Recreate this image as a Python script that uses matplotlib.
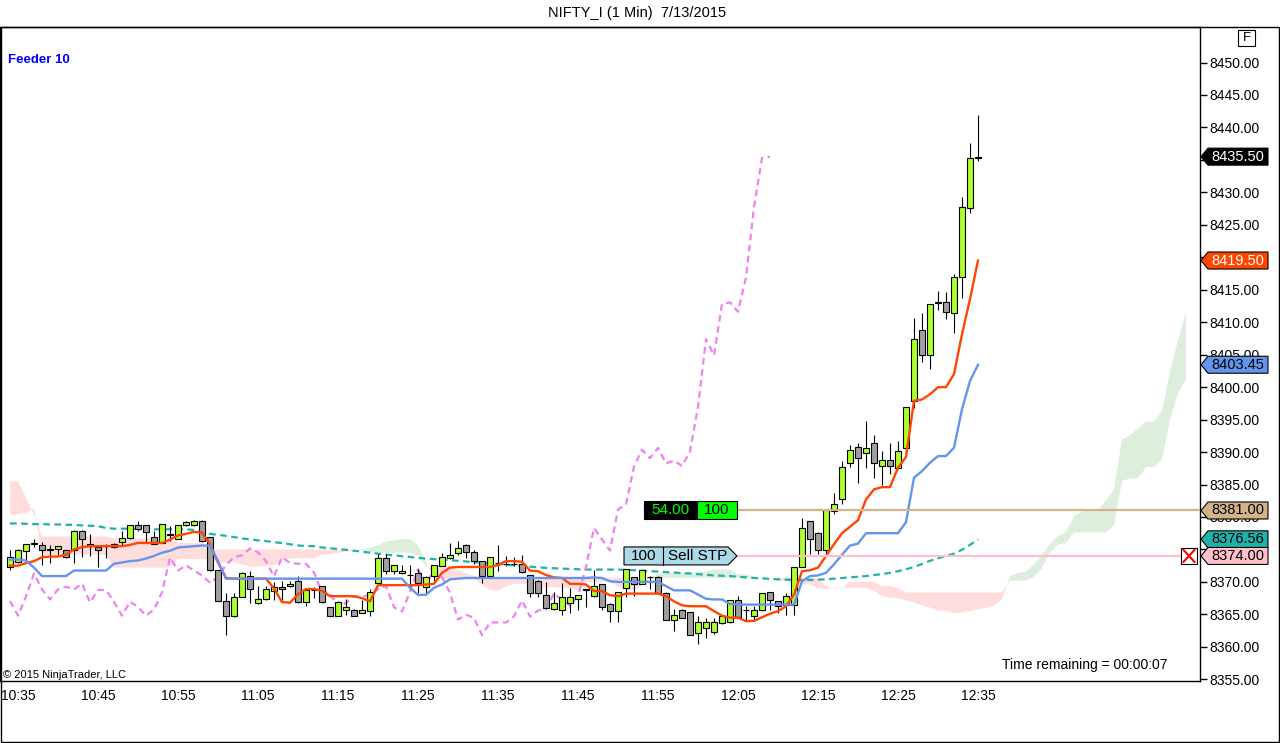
import matplotlib
matplotlib.use("Agg")
import matplotlib.pyplot as plt
from matplotlib.patches import Rectangle, Polygon
from matplotlib.lines import Line2D
from matplotlib.transforms import blended_transform_factory
import numpy as np

plt.rcParams['font.family'] = ['Liberation Sans', 'DejaVu Sans']

# ---------------- data (1-minute bars, first bar = 10:34) ----------------
time_labels = ["10:35", "10:45", "10:55", "11:05", "11:15", "11:25", "11:35",
               "11:45", "11:55", "12:05", "12:15", "12:25", "12:35"]
time_label_bars = [1, 11, 21, 31, 41, 51, 61, 71, 81, 91, 101, 111, 121]

opens = [8372.3, 8373.05, 8374.75, 8375.85, 8375.75, 8375.0, 8375.0, 8374.85, 8374.85, 8377.9,
         8375.8, 8375.45, 8375.5, 8375.9, 8376.2, 8376.7, 8378.7, 8378.7, 8376.85, 8376.0,
         8377.3, 8376.6, 8378.7, 8378.7, 8379.45, 8376.85, 8371.9, 8367.0, 8364.8, 8367.75,
         8370.85, 8366.7, 8367.3, 8368.55, 8369.2, 8369.3, 8370.1, 8366.85, 8368.7, 8369.3,
         8366.15, 8364.8, 8365.75, 8365.75, 8365.25, 8365.5, 8369.85, 8373.75, 8371.75, 8371.3,
         8371.0, 8371.4, 8369.2, 8370.95, 8372.5, 8373.65, 8374.4, 8375.75, 8374.6, 8373.15,
         8370.85, 8372.9, 8372.8, 8372.8, 8372.8, 8371.0, 8370.2, 8367.95, 8365.9, 8365.7,
         8366.75, 8367.3, 8368.7, 8367.8, 8369.7, 8366.65, 8365.45, 8369.1, 8370.75, 8369.7,
         8370.8, 8370.8, 8368.35, 8364.2, 8365.75, 8365.35, 8362.15, 8362.9, 8362.25, 8363.7,
         8363.75, 8367.15, 8365.6, 8364.8, 8365.75, 8368.45, 8367.05, 8366.5, 8366.4, 8372.3,
         8379.35, 8377.6, 8374.85, 8380.9, 8382.7, 8388.25, 8390.85, 8389.8, 8391.35, 8387.85,
         8388.7, 8387.6, 8390.55, 8397.85, 8408.75, 8404.9, 8413.0, 8413.05, 8411.4, 8417.0,
         8427.6, 8435.3]
highs = [8374.9, 8375.0, 8375.9, 8376.65, 8376.2, 8375.65, 8375.6, 8374.85, 8377.95, 8377.95,
         8377.4, 8375.75, 8375.9, 8376.0, 8377.85, 8378.75, 8379.45, 8378.75, 8377.85, 8378.9,
         8378.6, 8378.75, 8379.35, 8379.5, 8379.5, 8376.9, 8371.9, 8368.3, 8368.3, 8371.5,
         8371.75, 8369.35, 8369.35, 8369.95, 8370.1, 8370.1, 8370.9, 8368.8, 8369.2, 8369.35,
         8366.2, 8367.0, 8367.3, 8365.8, 8367.2, 8368.85, 8374.3, 8374.3, 8372.6, 8372.55,
         8372.55, 8372.05, 8370.85, 8372.65, 8374.5, 8375.95, 8376.3, 8375.8, 8374.95, 8373.2,
         8373.9, 8375.65, 8373.95, 8373.8, 8374.1, 8371.05, 8370.25, 8369.95, 8368.45, 8369.8,
         8369.1, 8368.0, 8368.95, 8371.8, 8369.75, 8366.7, 8368.5, 8372.0, 8370.8, 8371.85,
         8370.85, 8370.85, 8368.4, 8365.9, 8365.8, 8365.4, 8364.7, 8364.45, 8364.45, 8364.75,
         8367.2, 8367.8, 8366.25, 8366.25, 8368.3, 8368.5, 8367.1, 8368.35, 8372.35, 8379.9,
         8379.4, 8377.65, 8381.2, 8383.75, 8388.6, 8391.05, 8391.45, 8394.8, 8392.65, 8390.15,
         8391.45, 8391.7, 8397.0, 8410.6, 8411.45, 8412.85, 8414.85, 8414.7, 8417.4, 8429.35,
         8437.6, 8441.85]
lows = [8371.9, 8372.9, 8373.3, 8375.35, 8372.55, 8372.85, 8374.2, 8373.75, 8372.85, 8373.8,
        8374.05, 8372.35, 8373.7, 8375.2, 8375.5, 8376.6, 8377.85, 8376.2, 8375.8, 8375.95,
        8376.3, 8376.55, 8378.65, 8378.65, 8376.15, 8371.75, 8367.0, 8361.75, 8364.65, 8367.7,
        8366.8, 8366.65, 8367.25, 8367.15, 8367.15, 8369.2, 8366.8, 8366.25, 8367.55, 8366.8,
        8364.75, 8364.75, 8364.85, 8364.75, 8365.2, 8364.8, 8369.8, 8371.15, 8371.15, 8371.25,
        8369.25, 8368.3, 8368.3, 8370.1, 8372.45, 8373.6, 8374.2, 8373.7, 8372.7, 8369.9,
        8370.8, 8371.75, 8372.45, 8372.4, 8371.4, 8367.7, 8367.7, 8365.95, 8365.75, 8364.95,
        8365.25, 8365.7, 8366.2, 8367.75, 8365.65, 8363.75, 8363.75, 8367.7, 8367.8, 8369.65,
        8368.85, 8368.25, 8364.15, 8362.4, 8364.4, 8361.75, 8360.45, 8361.4, 8361.9, 8363.5,
        8363.7, 8364.6, 8363.95, 8364.05, 8365.5, 8365.75, 8365.25, 8364.95, 8364.95, 8372.25,
        8374.25, 8374.25, 8374.25, 8380.4, 8381.95, 8387.75, 8385.25, 8387.6, 8386.05, 8384.9,
        8386.65, 8387.35, 8389.65, 8396.85, 8403.8, 8402.75, 8411.9, 8410.55, 8408.3, 8413.7,
        8426.75, 8434.8]
closes = [8373.9, 8374.85, 8375.8, 8375.95, 8374.85, 8374.95, 8375.55, 8373.8, 8377.9, 8376.55,
          8375.5, 8374.85, 8375.55, 8375.3, 8376.7, 8378.7, 8378.1, 8377.75, 8375.8, 8378.85,
          8377.35, 8378.7, 8379.3, 8379.45, 8376.3, 8371.85, 8367.05, 8364.8, 8367.75, 8371.3,
          8368.85, 8367.3, 8368.85, 8369.25, 8368.85, 8369.75, 8366.85, 8368.75, 8368.75, 8366.95,
          8364.8, 8366.95, 8366.15, 8364.8, 8365.75, 8368.4, 8373.75, 8371.75, 8372.55, 8371.75,
          8371.0, 8369.85, 8370.8, 8372.6, 8373.8, 8374.1, 8375.15, 8374.55, 8373.2, 8370.85,
          8373.8, 8372.9, 8372.8, 8372.8, 8371.45, 8368.35, 8368.35, 8366.0, 8366.8, 8367.75,
          8367.75, 8367.95, 8368.9, 8369.35, 8366.1, 8365.45, 8368.45, 8371.95, 8369.7, 8371.8,
          8370.75, 8368.3, 8364.2, 8364.95, 8364.45, 8361.8, 8363.75, 8363.75, 8363.75, 8364.7,
          8367.15, 8364.65, 8365.6, 8365.75, 8368.25, 8367.2, 8366.35, 8367.8, 8372.3, 8378.3,
          8376.55, 8374.85, 8381.15, 8381.95, 8387.75, 8390.35, 8389.05, 8390.65, 8388.25, 8388.7,
          8387.85, 8390.1, 8396.95, 8407.4, 8404.9, 8412.8, 8413.05, 8411.6, 8416.9, 8427.7,
          8435.3, 8435.5]

tenkan = [8372.5, 8372.5, 8372.9, 8373.2, 8373.8, 8373.9, 8373.9, 8374.2, 8375.0, 8375.35,
          8375.5, 8375.5, 8375.5, 8375.5, 8375.5, 8375.7, 8376.0, 8376.0, 8376.0, 8376.0,
          8376.5, 8377.15, 8377.4, 8377.7, 8377.6, 8375.8, 8373.0, 8370.6, 8370.5, 8370.5,
          8370.5, 8370.5, 8370.5, 8369.0, 8366.9, 8366.8, 8368.1, 8368.9, 8368.9, 8368.6,
          8367.8, 8367.8, 8367.8, 8367.8, 8367.5, 8367.0, 8369.5, 8369.5, 8369.5, 8369.5,
          8369.5, 8369.5, 8369.6, 8369.7, 8371.4, 8372.2, 8372.3, 8372.3, 8372.3, 8372.3,
          8372.3, 8372.6, 8373.2, 8373.2, 8373.1, 8371.75, 8371.65, 8371.05, 8370.7, 8370.6,
          8369.7, 8369.7, 8369.6, 8368.6, 8368.6, 8367.95, 8367.8, 8368.2, 8368.2, 8368.2,
          8368.2, 8368.2, 8367.8, 8367.0, 8366.4, 8366.25, 8366.25, 8366.25, 8365.5, 8364.8,
          8364.5, 8364.5, 8363.95, 8364.0, 8364.55, 8365.1, 8365.5, 8366.25, 8368.05, 8371.65,
          8371.8, 8372.2, 8374.0, 8375.8, 8377.5, 8378.5, 8379.5, 8382.7, 8384.25, 8384.6,
          8384.6, 8387.6, 8389.25, 8397.9, 8398.1, 8398.9, 8400.0, 8400.0, 8402.0, 8408.15,
          8413.55, 8419.5]
kijun = [8373.45, 8373.45, 8373.3, 8372.2, 8370.9, 8370.9, 8370.9, 8370.9, 8371.75, 8371.75,
         8371.75, 8371.75, 8371.75, 8372.8, 8373.0, 8373.2, 8373.3, 8373.6, 8374.0, 8374.5,
         8374.8, 8375.3, 8375.4, 8375.5, 8375.6, 8375.6, 8373.2, 8370.5, 8370.5, 8370.5,
         8370.5, 8370.5, 8370.5, 8370.5, 8370.5, 8370.5, 8370.5, 8370.5, 8370.5, 8370.5,
         8370.5, 8370.5, 8370.5, 8370.5, 8370.5, 8370.5, 8370.5, 8370.5, 8370.5, 8370.5,
         8369.1, 8368.0, 8368.0, 8369.1, 8369.6, 8370.4, 8370.5, 8370.6, 8370.6, 8370.6,
         8370.6, 8370.6, 8370.6, 8370.6, 8370.6, 8370.6, 8370.6, 8370.6, 8370.6, 8370.6,
         8370.6, 8370.6, 8370.6, 8370.7, 8370.6, 8370.1, 8370.0, 8370.0, 8370.0, 8370.0,
         8370.0, 8370.0, 8369.35, 8368.7, 8368.7, 8368.7, 8368.05, 8367.4, 8367.3, 8367.3,
         8366.6, 8366.5, 8366.5, 8366.5, 8366.5, 8366.5, 8366.5, 8366.5, 8366.5, 8370.1,
         8370.9, 8371.0, 8371.4, 8372.7, 8374.2, 8375.6, 8375.9, 8377.5, 8377.5, 8377.5,
         8377.5, 8377.5, 8379.2, 8386.05, 8387.07, 8388.36, 8389.38, 8389.38, 8390.67, 8396.6,
         8400.95, 8403.45]
trend_ma = [8379.0, 8379.0, 8378.95, 8378.9, 8378.9, 8378.85, 8378.85, 8378.8, 8378.8, 8378.7,
            8378.65, 8378.6, 8378.3, 8378.2, 8378.2, 8378.2, 8378.15, 8378.1, 8378.1, 8378.1,
            8378.1, 8378.1, 8378.1, 8378.0, 8377.6, 8377.4, 8377.25, 8377.1, 8376.9, 8376.7,
            8376.55, 8376.4, 8376.3, 8376.1, 8376.0, 8375.8, 8375.6, 8375.55, 8375.5, 8375.3,
            8375.2, 8375.05, 8374.95, 8374.8, 8374.65, 8374.5, 8374.35, 8374.2, 8374.1, 8373.95,
            8373.85, 8373.7, 8373.6, 8373.5, 8373.45, 8373.35, 8373.25, 8373.15, 8373.05, 8372.95,
            8372.85, 8372.75, 8372.65, 8372.55, 8372.45, 8372.35, 8372.25, 8372.15, 8372.1, 8372.05,
            8372.0, 8371.95, 8371.9, 8371.9, 8371.9, 8371.9, 8371.9, 8371.85, 8371.8, 8371.75,
            8371.65, 8371.6, 8371.5, 8371.45, 8371.35, 8371.3, 8371.2, 8371.1, 8371.0, 8370.95,
            8370.9, 8370.8, 8370.7, 8370.6, 8370.55, 8370.45, 8370.4, 8370.35, 8370.3, 8370.3,
            8370.3, 8370.35, 8370.4, 8370.5, 8370.6, 8370.7, 8370.8, 8370.9, 8371.05, 8371.2,
            8371.4, 8371.65, 8371.95, 8372.3, 8372.75, 8373.25, 8373.65, 8374.0, 8374.35, 8374.95,
            8375.7, 8376.56]
# cloud spans, 26 bars further right than the price bars
span_a = [8380.4, 8380.4, 8380.6, 8381.4, 8374.2, 8374.2, 8374.2, 8374.2, 8374.2, 8374.2,
          8374.2, 8374.2, 8374.2, 8372.2, 8372.2, 8372.2, 8372.2, 8372.2, 8372.2, 8372.2,
          8372.2, 8373.5, 8373.5, 8373.5, 8373.5, 8373.5, 8372.98, 8372.98, 8373.1, 8372.7,
          8372.35, 8372.4, 8372.4, 8372.55, 8373.38, 8373.55, 8373.63, 8373.63, 8373.63, 8374.15,
          8374.25, 8374.45, 8374.65, 8374.8, 8375.0, 8375.25, 8375.65, 8376.23, 8376.4, 8376.6,
          8376.6, 8375.7, 8373.1, 8370.55, 8370.5, 8370.5, 8370.5, 8370.5, 8370.5, 8369.55,
          8368.7, 8368.65, 8369.3, 8369.7, 8369.7, 8369.55, 8369.15, 8369.15, 8369.15, 8369.15,
          8369.0, 8368.75, 8370.0, 8370.0, 8370.0, 8370.0, 8369.3, 8368.75, 8368.8, 8369.4,
          8370.5, 8371.3, 8371.4, 8371.45, 8371.45, 8371.45, 8371.45, 8371.6, 8371.9, 8371.9,
          8371.85, 8371.18, 8371.13, 8370.83, 8370.65, 8370.6, 8370.15, 8370.15, 8370.1, 8369.65,
          8369.6, 8369.03, 8368.9, 8369.1, 8369.1, 8369.1, 8369.1, 8369.1, 8368.58, 8367.85,
          8367.55, 8367.48, 8367.15, 8366.83, 8366.4, 8366.05, 8365.55, 8365.5, 8365.23, 8365.25,
          8365.53, 8365.8, 8366.0, 8366.38, 8367.28, 8370.88, 8371.35, 8371.6, 8372.7, 8374.25,
          8375.85, 8377.05, 8377.7, 8380.1, 8380.88, 8381.05, 8381.05, 8382.55, 8384.23, 8391.98,
          8392.59, 8393.63, 8394.69, 8394.69, 8396.34, 8402.38, 8407.25, 8411.48]
span_b = [8385.5, 8385.5, 8383.0, 8380.3, 8377.0, 8377.0, 8377.0, 8377.0, 8377.0, 8377.0,
          8377.0, 8377.0, 8377.0, 8376.7, 8376.7, 8376.7, 8376.7, 8376.7, 8376.7, 8376.7,
          8376.7, 8376.0, 8376.0, 8376.0, 8376.0, 8375.0, 8375.0, 8375.0, 8375.0, 8375.0,
          8375.0, 8375.0, 8375.0, 8375.0, 8375.0, 8375.0, 8375.0, 8375.0, 8375.0, 8375.0,
          8375.0, 8374.9, 8374.9, 8374.9, 8374.9, 8374.5, 8374.5, 8374.5, 8374.5, 8374.5,
          8374.5, 8374.0, 8372.4, 8372.4, 8372.4, 8372.4, 8371.8, 8371.3, 8370.9, 8370.63,
          8370.63, 8370.63, 8370.63, 8370.63, 8370.63, 8370.63, 8370.63, 8370.63, 8370.63, 8370.63,
          8370.63, 8370.63, 8370.63, 8370.63, 8370.63, 8370.63, 8370.63, 8370.63, 8370.63, 8370.63,
          8370.63, 8370.63, 8370.63, 8370.63, 8370.63, 8370.63, 8370.63, 8370.63, 8370.63, 8370.63,
          8370.63, 8370.63, 8370.63, 8370.63, 8370.63, 8370.63, 8370.63, 8370.63, 8370.63, 8370.63,
          8370.63, 8370.63, 8369.33, 8369.03, 8369.03, 8370.03, 8370.03, 8370.03, 8370.03, 8369.35,
          8369.35, 8369.03, 8368.38, 8368.38, 8368.38, 8368.38, 8368.38, 8368.38, 8368.38, 8368.38,
          8368.38, 8368.38, 8368.38, 8368.38, 8368.38, 8370.18, 8370.18, 8370.18, 8370.83, 8372.1,
          8374.53, 8375.75, 8375.95, 8377.63, 8377.63, 8377.63, 8377.63, 8377.63, 8378.73, 8385.53,
          8385.95, 8385.95, 8387.65, 8387.65, 8388.93, 8394.9, 8399.03, 8401.15]
chikou_shift = 26

working_stop_price = 8374.00
filled_price = 8381.00
order_qty = "100"
filled_pnl = "54.00"
tags = [  # (price, background, text colour)
    (8435.50, "#000000", "white"),
    (8419.50, "#FF4500", "white"),
    (8403.45, "#6495ED", "black"),
    (8381.00, "#D2B48C", "black"),
    (8376.56, "#20B2AA", "black"),
    (8374.00, "#FFC0CB", "black"),
]
price_ticks = [8355, 8360, 8365, 8370, 8375, 8380, 8385, 8390, 8395, 8400, 8405, 8410,
               8415, 8420, 8425, 8430, 8435, 8440, 8445, 8450]
covered_ticks = [8435, 8420, 8375]  # labels fully hidden under the price tags

# ---------------- layout (pixels of the 1280x743 picture) ----------------
W, H = 1280, 743
PX_L, PX_R, PX_T, PX_B = 0, 1200, 27, 681
BAR0_PX, BAR_W_PX = 10, 8
REF_PRICE, REF_PX, PX_PER_PT = 8450.0, 62.5, 6.4926

fig = plt.figure(figsize=(W / 100, H / 100), dpi=100)
fig.patch.set_facecolor("white")
ax = fig.add_axes([PX_L / W, 1 - PX_B / H, (PX_R - PX_L) / W, (PX_B - PX_T) / H])
ax.set_xlim((PX_L - BAR0_PX) / BAR_W_PX, (PX_R - BAR0_PX) / BAR_W_PX)
ax.set_ylim(REF_PRICE - (PX_B - REF_PX) / PX_PER_PT, REF_PRICE + (REF_PX - PX_T) / PX_PER_PT)

def bx(px):  # pixel x -> bar coordinate
    return (px - BAR0_PX) / BAR_W_PX

def hp(px):  # pixel height -> price units
    return px / PX_PER_PT

# cloud
xc = np.arange(len(span_a))
sa = np.array(span_a)
sb = np.array(span_b)
ax.fill_between(xc, sa, sb, where=sa >= sb, interpolate=True, color="#DDEEDD", lw=0, zorder=1)
ax.fill_between(xc, sa, sb, where=sa < sb, interpolate=True, color="#FFDDDD", lw=0, zorder=1)

x = np.arange(len(closes))
# teal average and lagging line
ax.plot(x, trend_ma, color="#20B2AA", lw=1.6, ls=(0, (3, 2)), zorder=3)
ax.plot(x[:len(closes) - chikou_shift], closes[chikou_shift:], color="#EE82EE", lw=1.6,
        ls=(0, (3, 2)), zorder=3)

# candles
for i, (o, h, l, c) in enumerate(zip(opens, highs, lows, closes)):
    ax.plot([i, i], [l, h], color="black", lw=0.8, zorder=4, solid_capstyle="butt")
    lo, hi = min(o, c), max(o, c)
    col = "#ADFF2F" if c >= o else "#A0A0A0"
    ax.add_patch(Rectangle((i - 0.37, lo), 0.74, max(hi - lo, 0.02), facecolor=col,
                           edgecolor="black", lw=0.8, zorder=5))

ax.plot(x, tenkan, color="#FF4500", lw=1.7, zorder=6)
ax.plot(x, kijun, color="#6495ED", lw=1.7, zorder=6)

# order lines
ax.plot([bx(737), ax.get_xlim()[1]], [filled_price, filled_price], color="#D2B48C", lw=1.6, zorder=7)
ax.plot([bx(737), bx(1181)], [working_stop_price, working_stop_price], color="#FFC0CB", lw=1.6, zorder=7)

bh = hp(18)
ax.add_patch(Rectangle((bx(644), filled_price - bh / 2), bx(697) - bx(644), bh,
                       facecolor="black", edgecolor="black", lw=0.8, zorder=8))
ax.add_patch(Rectangle((bx(697), filled_price - bh / 2), bx(737) - bx(697), bh,
                       facecolor="#00FF00", edgecolor="black", lw=0.8, zorder=8))
ax.text((bx(644) + bx(697)) / 2, filled_price, filled_pnl, color="#00FF00", fontsize=11,
        ha="center", va="center", zorder=9)
ax.text((bx(697) + bx(737)) / 2, filled_price, order_qty, color="black", fontsize=11,
        ha="center", va="center", zorder=9)

sy = working_stop_price
ax.add_patch(Polygon([(bx(624), sy - bh / 2), (bx(728), sy - bh / 2), (bx(737), sy),
                      (bx(728), sy + bh / 2), (bx(624), sy + bh / 2)], closed=True,
                     facecolor="#ADD8E6", edgecolor="black", lw=0.8, zorder=8))
ax.plot([bx(663), bx(663)], [sy - bh / 2, sy + bh / 2], color="black", lw=0.8, zorder=9)
ax.text((bx(624) + bx(663)) / 2, sy, order_qty, fontsize=11, ha="center", va="center", zorder=9)
ax.text((bx(663) + bx(728)) / 2 + 0.3, sy, "Sell STP", fontsize=11, ha="center", va="center", zorder=9)

# axes styling
for s in ax.spines.values():
    s.set_color("black")
    s.set_linewidth(1.0)
ax.yaxis.tick_right()
ax.set_yticks(price_ticks)
ax.set_yticklabels(["" if v in covered_ticks else f"{v:.2f}" for v in price_ticks])
ax.tick_params(axis="y", direction="out", length=5, width=1, pad=2, labelsize=10)
ax.set_xticks(time_label_bars)
ax.set_xticklabels(time_labels)
ax.tick_params(axis="x", length=0, pad=6, labelsize=10)

# price tags on the axis
blend = blended_transform_factory(fig.transFigure, ax.transData)
th = hp(8.5)
for price, bg, fg in tags:
    pts = [(1201 / W, price), (1208 / W, price + th), (1268 / W, price + th),
           (1268 / W, price - th), (1208 / W, price - th)]
    ax.add_patch(Polygon(pts, closed=True, transform=blend, facecolor=bg, edgecolor="black",
                         lw=0.8, clip_on=False, zorder=20))
    ax.text(1238 / W, price, f"{price:.2f}", transform=blend, color=fg, fontsize=10.5,
            ha="center", va="center", clip_on=False, zorder=21)

# stop marker box
mh = hp(16)
ax.add_patch(Rectangle((1181 / W, sy - mh / 2), 16 / W, mh, transform=blend, facecolor="white",
                       edgecolor="black", lw=0.8, clip_on=False, zorder=20))
ax.add_line(Line2D([1183.5 / W, 1194.5 / W], [sy + hp(6), sy - hp(6)], transform=blend,
                   color="red", lw=1.5, clip_on=False, zorder=21))
ax.add_line(Line2D([1183.5 / W, 1194.5 / W], [sy - hp(6), sy + hp(6)], transform=blend,
                   color="red", lw=1.5, clip_on=False, zorder=21))

# texts around the chart
fig.text(637 / W, 1 - 13 / H, "NIFTY_I (1 Min)  7/13/2015", ha="center", va="center", fontsize=10.5)
fig.text(8 / W, 1 - 60 / H, "Feeder 10", ha="left", va="center", fontsize=9.5, color="#0000FF",
         fontweight="bold")
fig.text(3 / W, 1 - 675 / H, "\u00a9 2015 NinjaTrader, LLC", ha="left", va="center", fontsize=8)
fig.text(1167 / W, 1 - 665 / H, "Time remaining = 00:00:07", ha="right", va="center", fontsize=10)
fig.add_artist(Rectangle((1238 / W, 1 - 46 / H), 17 / W, 16 / H, transform=fig.transFigure,
                         fill=False, edgecolor="black", lw=0.8))
fig.text(1246.5 / W, 1 - 38 / H, "F", ha="center", va="center", fontsize=9.5)
# outer frame
fig.add_artist(Rectangle((0.5 / W, 1 - 741.5 / H), 1278 / W, (741.5 - 27) / H,
                         transform=fig.transFigure, fill=False, edgecolor="black", lw=1.0))

fig.savefig("out.png", dpi=100, facecolor="white")
